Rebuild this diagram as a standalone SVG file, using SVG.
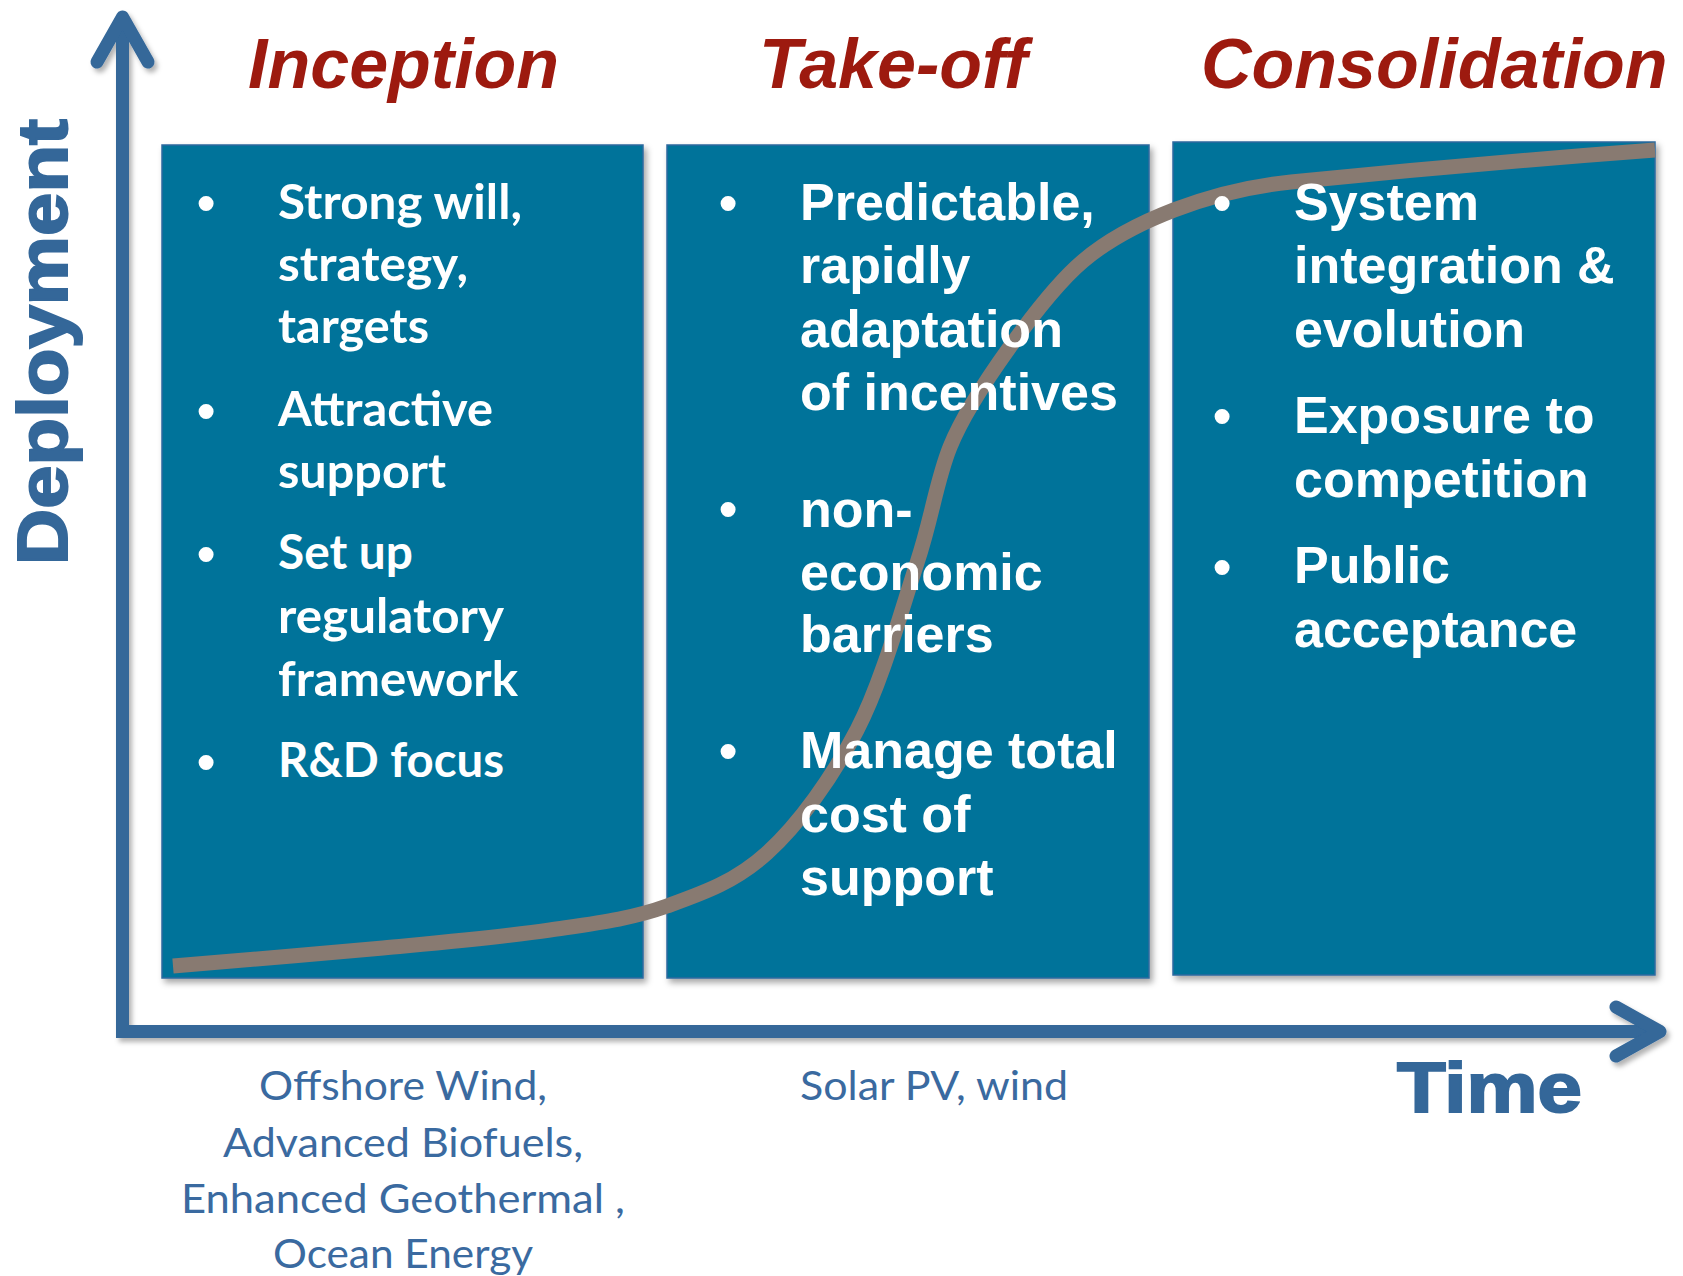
<svg xmlns="http://www.w3.org/2000/svg" width="1683" height="1276" viewBox="0 0 1683 1276">
  <defs>
    <filter id="shadow" x="-5%" y="-5%" width="115%" height="115%">
      <feDropShadow dx="3" dy="4" stdDeviation="3" flood-color="#000" flood-opacity="0.35"/>
    </filter>
    <filter id="axisShadow" x="-5%" y="-5%" width="115%" height="115%">
      <feDropShadow dx="3" dy="4" stdDeviation="2.5" flood-color="#000" flood-opacity="0.3"/>
    </filter>
  </defs>
  <style>
    .panel{fill:#03739a;stroke:#2f6a9e;stroke-width:1.5;filter:url(#shadow)}
    .phase{font-family:"Liberation Sans",Arial,sans-serif;font-weight:bold;font-style:italic;font-size:70px;fill:#9d1a0f}
    .cal{font-family:Lato,"Liberation Sans",sans-serif;font-weight:bold;font-size:48px;fill:#fff}
    .ari{font-family:"Liberation Sans",Arial,sans-serif;font-weight:bold;font-size:52px;fill:#fff}
    .bul{font-family:"Liberation Sans",Arial,sans-serif;font-weight:bold;font-size:52px;fill:#fff;text-anchor:middle}
    .axis{fill:none;stroke:#346799;stroke-width:13;stroke-linejoin:miter}
    .head{fill:none;stroke:#346799;stroke-width:13;stroke-linecap:round;stroke-linejoin:round}
    .curve{fill:none;stroke:#887a71;stroke-width:15}
    .axlabel{font-family:"Liberation Sans",Arial,sans-serif;font-weight:bold;font-size:70px;fill:#346799;stroke:#346799;stroke-width:2}
    .tech{font-family:Lato,"Liberation Sans",sans-serif;font-size:41px;fill:#3a6aa0}
  </style>

  <!-- axes -->
  <g id="axes" filter="url(#axisShadow)">
    <path class="axis" d="M122.5,18 V1031.5 H1660"/>
    <polyline class="head" points="97,62 122.5,17 148,62"/>
    <polyline class="head" points="1616,1007 1660,1031.5 1616,1056"/>
  </g>

  <!-- axis labels -->
  <text id="label-deployment" class="axlabel" transform="translate(67,565) rotate(-90)" x="0" y="0" textLength="446" lengthAdjust="spacingAndGlyphs">Deployment</text>
  <text id="label-time" class="axlabel" x="1397" y="1112" textLength="185" lengthAdjust="spacingAndGlyphs">Time</text>

  <!-- phase titles -->
  <text id="title-inception" class="phase" x="248" y="88">Inception</text>
  <text id="title-takeoff" class="phase" x="759" y="88">Take-off</text>
  <text id="title-consolidation" class="phase" x="1201" y="88">Consolidation</text>

  <!-- phase panels -->
  <g id="panels">
    <rect id="panel-inception" class="panel" x="162" y="145" width="481" height="833"/>
    <rect id="panel-takeoff" class="panel" x="667" y="145" width="482" height="833"/>
    <rect id="panel-consolidation" class="panel" x="1173" y="142" width="482" height="833"/>
  </g>

  <!-- deployment S-curve -->
  <g id="s-curve">
    <path class="curve" d="M173,966 C208,963 320,954 383,948 C446,942 503,937 550,930 C597,923 631,919 667,906 C703,893 735,882 767,853 C799,824 832,778 857,730 C882,682 901.5,610 917,563 C932.5,516 936.2,481.3 950,447 C970.5,396 1045,293 1083,261 C1129,222 1211,190 1291,182 C1410,170 1535,159 1655,150"/>
  </g>

  <!-- inception bullets -->
  <g id="node-inception">
    <text class="bul" x="206" y="221">•</text>
    <text class="cal" x="278" y="219" textLength="244" lengthAdjust="spacingAndGlyphs">Strong will,</text>
    <text class="cal" x="278" y="281" textLength="190" lengthAdjust="spacingAndGlyphs">strategy,</text>
    <text class="cal" x="278" y="343" textLength="151" lengthAdjust="spacingAndGlyphs">targets</text>
    <text class="bul" x="206" y="429">•</text>
    <text class="cal" x="278" y="426" textLength="215" lengthAdjust="spacingAndGlyphs">Attractive</text>
    <text class="cal" x="278" y="488" textLength="168" lengthAdjust="spacingAndGlyphs">support</text>
    <text class="bul" x="206" y="572">•</text>
    <text class="cal" x="278" y="569" textLength="135" lengthAdjust="spacingAndGlyphs">Set up</text>
    <text class="cal" x="278" y="633" textLength="226" lengthAdjust="spacingAndGlyphs">regulatory</text>
    <text class="cal" x="278" y="696" textLength="240" lengthAdjust="spacingAndGlyphs">framework</text>
    <text class="bul" x="206" y="780">•</text>
    <text class="cal" x="278" y="777" textLength="226" lengthAdjust="spacingAndGlyphs">R&amp;D focus</text>
  </g>

  <!-- take-off bullets -->
  <g id="node-takeoff">
    <text class="bul" x="728" y="221">•</text>
    <text class="ari" x="800" y="220">Predictable,</text>
    <text class="ari" x="800" y="283">rapidly</text>
    <text class="ari" x="800" y="347">adaptation</text>
    <text class="ari" x="800" y="410">of incentives</text>
    <text class="bul" x="728" y="527">•</text>
    <text class="ari" x="800" y="527">non-</text>
    <text class="ari" x="800" y="590">economic</text>
    <text class="ari" x="800" y="652">barriers</text>
    <text class="bul" x="728" y="769">•</text>
    <text class="ari" x="800" y="768">Manage total</text>
    <text class="ari" x="800" y="832">cost of</text>
    <text class="ari" x="800" y="895">support</text>
  </g>

  <!-- consolidation bullets -->
  <g id="node-consolidation">
    <text class="bul" x="1222" y="221">•</text>
    <text class="ari" x="1294" y="220">System</text>
    <text class="ari" x="1294" y="283">integration &amp;</text>
    <text class="ari" x="1294" y="347">evolution</text>
    <text class="bul" x="1222" y="434">•</text>
    <text class="ari" x="1294" y="433">Exposure to</text>
    <text class="ari" x="1294" y="497">competition</text>
    <text class="bul" x="1222" y="585">•</text>
    <text class="ari" x="1294" y="583">Public</text>
    <text class="ari" x="1294" y="647">acceptance</text>
  </g>

  <!-- example technologies per phase -->
  <g id="tech-inception" class="tech" text-anchor="middle">
    <text x="403" y="1100" textLength="288" lengthAdjust="spacingAndGlyphs">Offshore Wind,</text>
    <text x="403" y="1157" textLength="360" lengthAdjust="spacingAndGlyphs">Advanced Biofuels,</text>
    <text x="403" y="1213" textLength="444" lengthAdjust="spacingAndGlyphs">Enhanced Geothermal ,</text>
    <text x="403" y="1268" textLength="260" lengthAdjust="spacingAndGlyphs">Ocean Energy</text>
  </g>
  <g id="tech-takeoff" class="tech">
    <text x="800" y="1100" textLength="268" lengthAdjust="spacingAndGlyphs">Solar PV, wind</text>
  </g>
</svg>
